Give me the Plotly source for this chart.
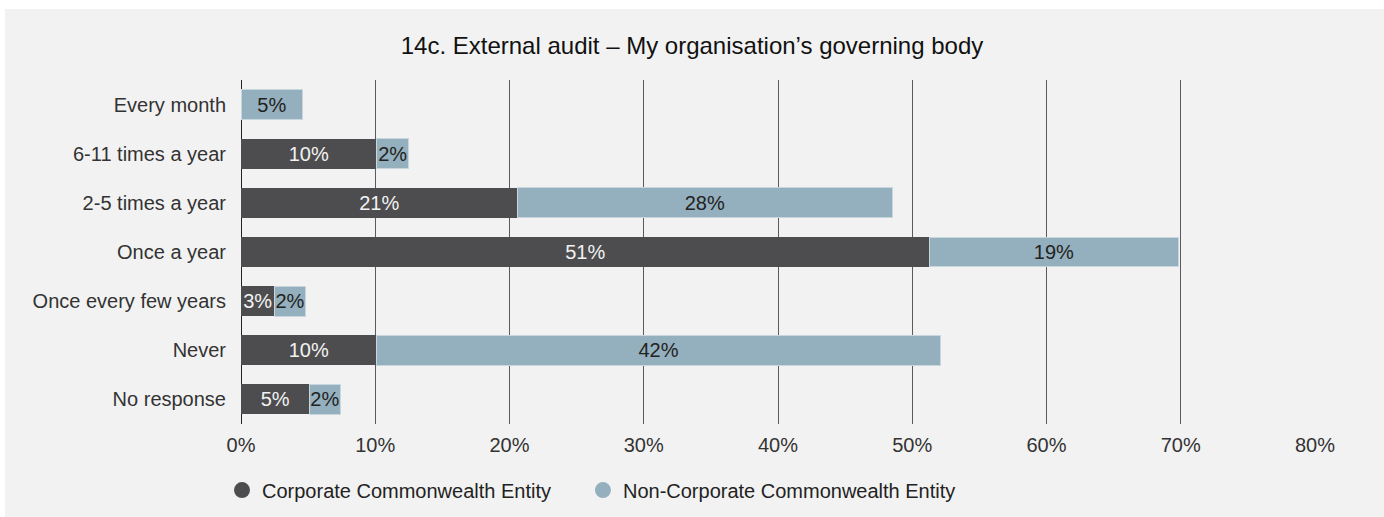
import plotly.graph_objects as go

categories = ["Every month", "6-11 times a year", "2-5 times a year", "Once a year",
              "Once every few years", "Never", "No response"]
corporate = [0, 10.1, 20.6, 51.3, 2.5, 10.1, 5.1]
corporate_labels = ["", "10%", "21%", "51%", "3%", "10%", "5%"]
non_corporate = [4.6, 2.4, 27.9, 18.5, 2.3, 42.0, 2.3]
non_corporate_labels = ["5%", "2%", "28%", "19%", "2%", "42%", "2%"]
tick_vals = [0, 10, 20, 30, 40, 50, 60, 70, 80]
tick_text = ["0%", "10%", "20%", "30%", "40%", "50%", "60%", "70%", "80%"]

font = "Liberation Sans, Arial, sans-serif"
dark = "#4d4d4f"
light = "#94afbd"

fig = go.Figure()
fig.add_trace(go.Bar(
    y=categories, x=corporate, orientation="h", name="Corporate Commonwealth Entity",
    marker=dict(color=dark, line_width=0), showlegend=False,
    text=corporate_labels, textposition="inside", insidetextanchor="middle",
    constraintext="none", textfont=dict(color="#f2f2f2", size=20, family=font),
    hoverinfo="skip",
))
fig.add_trace(go.Bar(
    y=categories, x=non_corporate, orientation="h", name="Non-Corporate Commonwealth Entity",
    marker=dict(color=light, line=dict(color="#c9d6dd", width=1)), showlegend=False,
    text=non_corporate_labels, textposition="inside", insidetextanchor="middle",
    constraintext="none", textfont=dict(color="#222222", size=20, family=font),
    hoverinfo="skip",
))
# round legend markers like the original, one legend box each so they can be placed
fig.add_trace(go.Scatter(x=[None], y=[None], mode="markers", name="Corporate Commonwealth Entity",
                         marker=dict(color=dark, size=18), legend="legend"))
fig.add_trace(go.Scatter(x=[None], y=[None], mode="markers", name="Non-Corporate Commonwealth Entity",
                         marker=dict(color=light, size=18), legend="legend2"))

# grey panel behind everything, leaving a thin white strip top/left
fig.add_shape(type="rect", xref="paper", yref="paper", x0=-0.2197, x1=1.07,
              y0=-0.27, y1=1.2064, fillcolor="#f2f2f2", line_width=0, layer="below")

legend_style = dict(orientation="h", xref="container", yref="container", y=0.052,
                    xanchor="left", yanchor="middle", itemsizing="trace",
                    font=dict(size=20, color="#222222"), bgcolor="rgba(0,0,0,0)")

fig.update_layout(
    barmode="stack",
    bargap=0.39,
    width=1384, height=517,
    margin=dict(l=241, r=69, t=80, b=93),
    paper_bgcolor="white",
    plot_bgcolor="rgba(0,0,0,0)",
    font=dict(family=font, size=20, color="#222222"),
    title=dict(text="14c. External audit – My organisation’s governing body",
               x=0.5, xanchor="center", y=0.911, yanchor="middle",
               font=dict(size=24, color="#111111")),
    xaxis=dict(range=[0, 80], tickvals=tick_vals, ticktext=tick_text,
               showgrid=True, gridcolor="#5a5a5a", gridwidth=1,
               zeroline=True, zerolinecolor="#222222", zerolinewidth=1,
               ticks="", tickfont=dict(size=20, color="#333333"), ticklabelstandoff=7,
               fixedrange=True),
    yaxis=dict(autorange="reversed", ticks="", ticklabelstandoff=14,
               tickfont=dict(size=20, color="#333333"), showgrid=False),
    legend=dict(x=0.1604, **legend_style),
    legend2=dict(x=0.4212, **legend_style),
)

fig.write_html("out.html", config={"displayModeBar": False},
               post_script="document.body.style.margin='0px';")
